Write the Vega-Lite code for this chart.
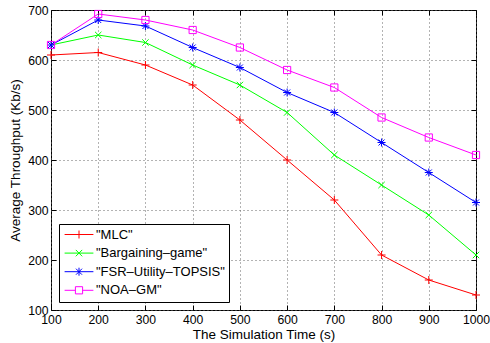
{
  "$schema": "https://vega.github.io/schema/vega-lite/v6.json",
  "width": 425,
  "height": 300,
  "autosize": {"type": "none"},
  "padding": {"left": 51, "top": 10, "right": 14, "bottom": 33},
  "background": "white",
  "data": {"values": [
    {"t": 100, "series": "MLC", "v": 610}, {"t": 200, "series": "MLC", "v": 615}, {"t": 300, "series": "MLC", "v": 590}, {"t": 400, "series": "MLC", "v": 550}, {"t": 500, "series": "MLC", "v": 480}, {"t": 600, "series": "MLC", "v": 400}, {"t": 700, "series": "MLC", "v": 320}, {"t": 800, "series": "MLC", "v": 210}, {"t": 900, "series": "MLC", "v": 160}, {"t": 1000, "series": "MLC", "v": 130},
    {"t": 100, "series": "Bargaining-game", "v": 630}, {"t": 200, "series": "Bargaining-game", "v": 650}, {"t": 300, "series": "Bargaining-game", "v": 635}, {"t": 400, "series": "Bargaining-game", "v": 590}, {"t": 500, "series": "Bargaining-game", "v": 550}, {"t": 600, "series": "Bargaining-game", "v": 495}, {"t": 700, "series": "Bargaining-game", "v": 410}, {"t": 800, "series": "Bargaining-game", "v": 350}, {"t": 900, "series": "Bargaining-game", "v": 290}, {"t": 1000, "series": "Bargaining-game", "v": 210},
    {"t": 100, "series": "FSR-Utility-TOPSIS", "v": 630}, {"t": 200, "series": "FSR-Utility-TOPSIS", "v": 680}, {"t": 300, "series": "FSR-Utility-TOPSIS", "v": 668}, {"t": 400, "series": "FSR-Utility-TOPSIS", "v": 625}, {"t": 500, "series": "FSR-Utility-TOPSIS", "v": 585}, {"t": 600, "series": "FSR-Utility-TOPSIS", "v": 535}, {"t": 700, "series": "FSR-Utility-TOPSIS", "v": 495}, {"t": 800, "series": "FSR-Utility-TOPSIS", "v": 435}, {"t": 900, "series": "FSR-Utility-TOPSIS", "v": 375}, {"t": 1000, "series": "FSR-Utility-TOPSIS", "v": 315},
    {"t": 100, "series": "NOA-GM", "v": 630}, {"t": 200, "series": "NOA-GM", "v": 692}, {"t": 300, "series": "NOA-GM", "v": 680}, {"t": 400, "series": "NOA-GM", "v": 660}, {"t": 500, "series": "NOA-GM", "v": 625}, {"t": 600, "series": "NOA-GM", "v": 580}, {"t": 700, "series": "NOA-GM", "v": 545}, {"t": 800, "series": "NOA-GM", "v": 485}, {"t": 900, "series": "NOA-GM", "v": 445}, {"t": 1000, "series": "NOA-GM", "v": 410}
  ]},
  "config": {
    "font": "Liberation Sans",
    "view": {"stroke": "black", "strokeWidth": 1},
    "axis": {
      "labelFontSize": 12.2, "titleFontSize": 13.5, "titleFontWeight": "normal",
      "labelColor": "black", "titleColor": "black", "format": "d",
      "domain": false, "tickColor": "black", "tickSize": -5, "tickWidth": 1,
      "gridColor": "#666", "gridDash": [1, 3], "gridWidth": 1
    },
    "legend": {
      "orient": "bottom-left", "offset": 8, "strokeColor": "black", "fillColor": "white",
      "padding": 4, "symbolSize": 64, "symbolStrokeWidth": 1, "symbolOpacity": 1, "labelFontSize": 13,
      "labelColor": "black", "rowPadding": 4.6, "labelOffset": 3
    }
  },
  "encoding": {
    "color": {"field": "series", "type": "nominal",
              "scale": {"domain": ["MLC", "Bargaining-game", "FSR-Utility-TOPSIS", "NOA-GM"], "range": ["#ff0000", "#00ff00", "#0000ff", "#ff00ff"]},
              "legend": {"title": null, "labelExpr": "'\"' + replace(datum.label, regexp('-', 'g'), '–') + '\"'",
                         "encode": {"symbols": {"update": {"x": {"value": 16}}}, "labels": {"update": {"x": {"value": 33}}}}}}
  },
  "layer": [
    {
      "mark": {"type": "line", "strokeWidth": 1},
      "encoding": {
        "x": {"field": "t", "type": "quantitative", "scale": {"domain": [100, 1000], "nice": false},
              "axis": {"orient": "bottom", "values": [100,200,300,400,500,600,700,800,900,1000], "title": "The Simulation Time (s)", "grid": true, "labelPadding": 8, "titlePadding": 2, "labelFlush": false}},
        "y": {"field": "v", "type": "quantitative", "scale": {"domain": [100, 700], "nice": false},
              "axis": {"orient": "left", "values": [100,200,300,400,500,600,700], "title": "Average Throughput (Kb/s)", "grid": true, "labelPadding": 8, "titlePadding": 5}}
      }
    },
    {
      "mark": {"type": "point", "filled": false, "size": 64, "strokeWidth": 1, "opacity": 0},
      "encoding": {
        "x": {"field": "t", "type": "quantitative",
              "axis": {"orient": "top", "values": [100,200,300,400,500,600,700,800,900,1000], "title": null, "labels": false, "grid": false}},
        "y": {"field": "v", "type": "quantitative",
              "axis": {"orient": "right", "values": [100,200,300,400,500,600,700], "title": null, "labels": false, "grid": false}},
        "shape": {"field": "series", "type": "nominal",
                  "scale": {"domain": ["MLC", "Bargaining-game", "FSR-Utility-TOPSIS", "NOA-GM"],
                            "range": ["M-3.6,0L3.6,0M0,-1L0,1", "M-3.6,0L3.6,0M-0.8,-0.8L0.8,0.8M-0.8,0.8L0.8,-0.8", "M-3.6,0L3.6,0M0,-1L0,1M-0.75,-0.75L0.75,0.75M-0.75,0.75L0.75,-0.75", "M-3.6,0L-0.9,0M0.9,0L3.6,0M-0.9,-0.9L0.9,-0.9L0.9,0.9L-0.9,0.9Z"]},
                  "legend": {"title": null, "labelExpr": "'\"' + replace(datum.label, regexp('-', 'g'), '–') + '\"'",
                             "encode": {"symbols": {"update": {"x": {"value": 16}}}, "labels": {"update": {"x": {"value": 33}}}}}}
      }
    },
    {
      "transform": [{"filter": "datum.series == 'MLC'"}],
      "mark": {"type": "point", "filled": false, "size": 64, "strokeWidth": 1, "opacity": 1, "shape": "M-1,0L1,0M0,-1L0,1"},
      "encoding": {"x": {"field": "t", "type": "quantitative", "axis": null}, "y": {"field": "v", "type": "quantitative", "axis": null}}
    },
    {
      "transform": [{"filter": "datum.series == 'Bargaining-game'"}],
      "mark": {"type": "point", "filled": false, "size": 64, "strokeWidth": 1, "opacity": 1, "shape": "M-0.8,-0.8L0.8,0.8M-0.8,0.8L0.8,-0.8"},
      "encoding": {"x": {"field": "t", "type": "quantitative", "axis": null}, "y": {"field": "v", "type": "quantitative", "axis": null}}
    },
    {
      "transform": [{"filter": "datum.series == 'FSR-Utility-TOPSIS'"}],
      "mark": {"type": "point", "filled": false, "size": 64, "strokeWidth": 1, "opacity": 1, "shape": "M-1,0L1,0M0,-1L0,1M-0.75,-0.75L0.75,0.75M-0.75,0.75L0.75,-0.75"},
      "encoding": {"x": {"field": "t", "type": "quantitative", "axis": null}, "y": {"field": "v", "type": "quantitative", "axis": null}}
    },
    {
      "transform": [{"filter": "datum.series == 'NOA-GM'"}],
      "mark": {"type": "point", "filled": false, "size": 64, "strokeWidth": 1, "opacity": 1, "shape": "M-0.9,-0.9L0.9,-0.9L0.9,0.9L-0.9,0.9Z"},
      "encoding": {"x": {"field": "t", "type": "quantitative", "axis": null}, "y": {"field": "v", "type": "quantitative", "axis": null}}
    }
  ],
  "resolve": {"axis": {"x": "independent", "y": "independent"}}
}
